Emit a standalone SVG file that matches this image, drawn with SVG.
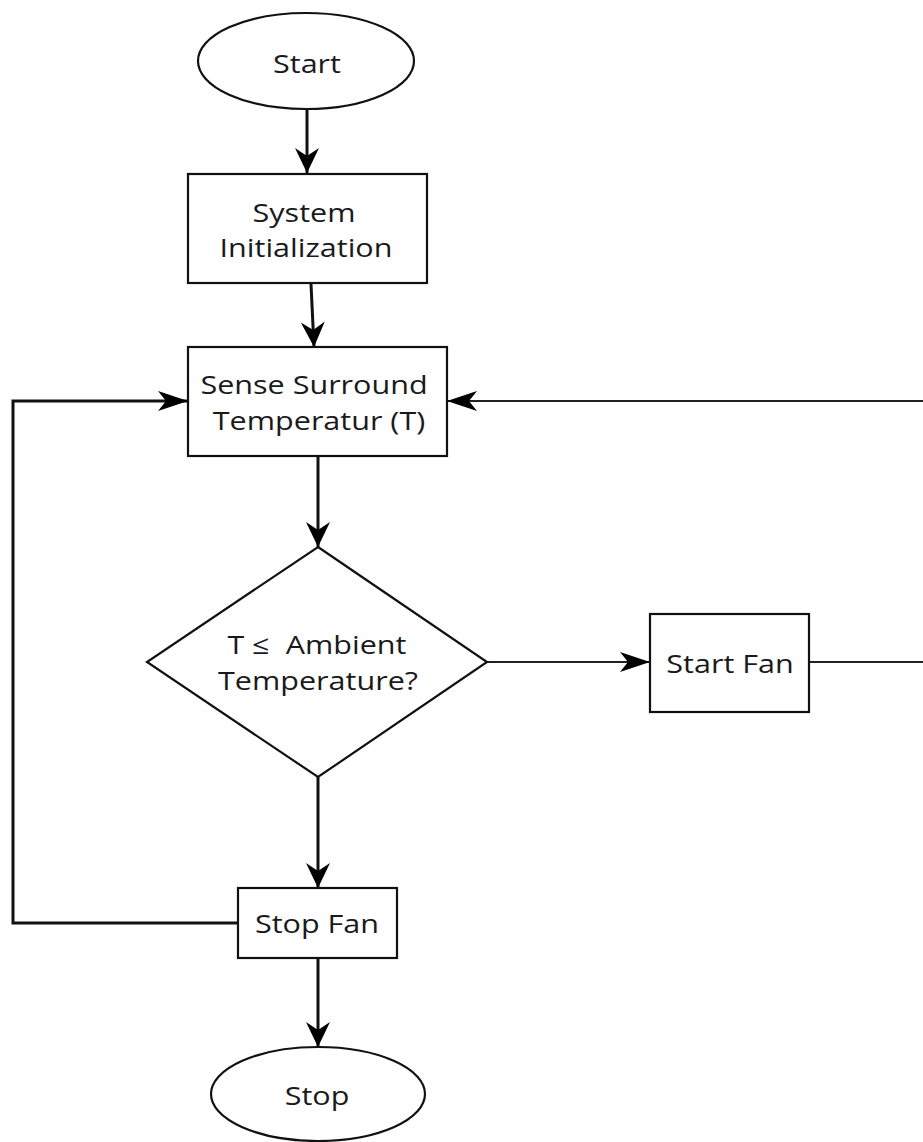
<svg xmlns="http://www.w3.org/2000/svg" width="923" height="1142" viewBox="0 0 923 1142">
<defs>
<style>
.shape{fill:#fff;stroke:#111;stroke-width:2.2}
.lbl{font-family:"Open Sans","Noto Sans","DejaVu Sans",sans-serif;font-size:26px;fill:#1a1a1a;text-anchor:middle;white-space:pre}
.thick{fill:none;stroke:#111;stroke-width:3}
.thin{fill:none;stroke:#222;stroke-width:2}
</style>
<marker id="av" markerUnits="userSpaceOnUse" markerWidth="26" markerHeight="26" refX="25" refY="12" orient="auto" viewBox="0 0 26 26">
<path d="M0,0 L25,12 L0,24 L8,12 Z" fill="#000"/>
</marker>
<marker id="ah" markerUnits="userSpaceOnUse" markerWidth="31" markerHeight="22" refX="30" refY="10" orient="auto" viewBox="0 0 31 22">
<path d="M0,0 L30,10 L0,20 L8,10 Z" fill="#000"/>
</marker>
</defs>
<rect width="923" height="1142" fill="#fff"/>
<g id="connectors">
<line class="thick" x1="307" y1="109" x2="307" y2="173" marker-end="url(#av)"/>
<line class="thick" x1="311" y1="284" x2="314" y2="347" marker-end="url(#av)"/>
<line class="thick" x1="318" y1="456" x2="318" y2="547" marker-end="url(#av)"/>
<line class="thin" x1="487" y1="662" x2="650" y2="662" marker-end="url(#ah)"/>
<path class="thin" d="M809,662 H930 V401 H447" marker-end="url(#ah)"/>
<line class="thick" x1="318" y1="777" x2="318" y2="888" marker-end="url(#av)"/>
<path class="thick" d="M238,923 H13 V401 H188" marker-end="url(#ah)" stroke-width="2.5"/>
<line class="thick" x1="318" y1="958" x2="318" y2="1047" marker-end="url(#av)"/>
</g>
<g id="start">
<ellipse class="shape" cx="306" cy="61" rx="108" ry="48"/>
<text class="lbl" transform="translate(307,73) scale(1.175,1)">Start</text>
</g>
<g id="init">
<rect class="shape" x="188" y="174" width="239" height="109"/>
<text class="lbl" transform="translate(304,222) scale(1.175,1)">System</text>
<text class="lbl" transform="translate(306,257) scale(1.175,1)">Initialization</text>
</g>
<g id="sense">
<rect class="shape" x="188" y="347" width="259" height="109"/>
<text class="lbl" transform="translate(314,394) scale(1.175,1)">Sense Surround</text>
<text class="lbl" transform="translate(319,430) scale(1.175,1)">Temperatur (T)</text>
</g>
<g id="decision">
<polygon class="shape" points="318,547 487,662 318,777 147,662"/>
<text class="lbl" transform="translate(317,654) scale(1.175,1)">T ≤  Ambient</text>
<text class="lbl" transform="translate(318,690) scale(1.175,1)">Temperature?</text>
</g>
<g id="startfan">
<rect class="shape" x="650" y="614" width="159" height="98"/>
<text class="lbl" transform="translate(730,673) scale(1.175,1)">Start Fan</text>
</g>
<g id="stopfan">
<rect class="shape" x="238" y="888" width="159" height="70"/>
<text class="lbl" transform="translate(317,933) scale(1.175,1)">Stop Fan</text>
</g>
<g id="stop">
<ellipse class="shape" cx="318" cy="1094" rx="107" ry="47"/>
<text class="lbl" transform="translate(317,1105) scale(1.175,1)">Stop</text>
</g>
</svg>
